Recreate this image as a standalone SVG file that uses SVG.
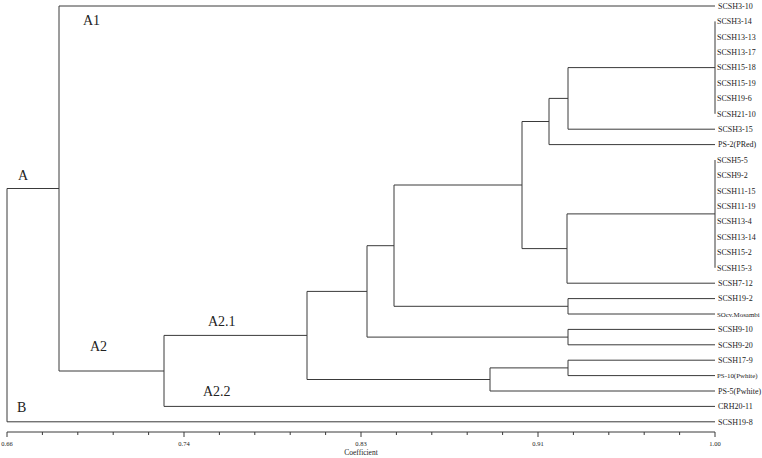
<svg xmlns="http://www.w3.org/2000/svg" width="762" height="458" viewBox="0 0 762 458">
<style>
.ln{fill:none;stroke:#3a3a3a;stroke-width:1}
.lf{font-family:"Liberation Serif","Times New Roman",serif;font-size:8px;fill:#222}
.sm{font-size:6.9px}
.cl{font-family:"Liberation Serif","Times New Roman",serif;font-size:14px;fill:#222}
.ax{font-family:"Liberation Serif","Times New Roman",serif;font-size:6.5px;fill:#222;text-anchor:middle}
</style>
<rect width="762" height="458" fill="#fff"/>
<g id="connectors" class="ln">
<path d="M59,6H715"/>
<path d="M715,21.4V113.8M568,67.6H715"/>
<path d="M568,129.2H715"/>
<path d="M568,67.6V129.2M549,98.4H568"/>
<path d="M549,144.6H715"/>
<path d="M549,98.4V144.6M522,121.5H549"/>
<path d="M715,160V267.8M567,213.9H715"/>
<path d="M567,283.2H715"/>
<path d="M567,213.9V283.2M522,248.6H567"/>
<path d="M522,121.5V248.6M394,185H522"/>
<path d="M568,298.6H715M568,314H715M568,298.6V314M394,306.3H568"/>
<path d="M394,185V306.3M367,245.7H394"/>
<path d="M568,329.4H715M568,344.8H715M568,329.4V344.8M367,337.1H568"/>
<path d="M367,245.7V337.1M307,291.4H367"/>
<path d="M568,360.2H715M568,375.6H715M568,360.2V375.6M490,367.9H568"/>
<path d="M490,391H715"/>
<path d="M490,367.9V391M307,379.5H490"/>
<path d="M307,291.4V379.5M164,335.4H307"/>
<path d="M164,406.4H715"/>
<path d="M164,335.4V406.4M59,371H164"/>
<path d="M59,6V371M7,188.5H59"/>
<path d="M7,421.8H715"/>
<path d="M7,188.5V421.8"/>
</g>
<g id="axis" class="ln">
<path d="M7,432H715"/>
<path d="M7,432v5M42.4,432v3M77.8,432v3M113.2,432v3M148.6,432v3M184,432v5M219.4,432v3M254.8,432v3M290.2,432v3M325.6,432v3M361,432v5M396.4,432v3M431.8,432v3M467.2,432v3M502.6,432v3M538,432v5M573.4,432v3M608.8,432v3M644.2,432v3M679.6,432v3M715,432v5"/>
</g>
<g id="axis-labels">
<text class="ax" x="7" y="446">0.66</text>
<text class="ax" x="184" y="446">0.74</text>
<text class="ax" x="361" y="446">0.83</text>
<text class="ax" x="538" y="446">0.91</text>
<text class="ax" x="715" y="446">1.00</text>
<text class="ax" x="361" y="455" style="font-size:7.5px">Coefficient</text>
</g>
<g id="cluster-labels">
<text id="lbl-A1" class="cl" x="83" y="25">A1</text>
<text id="lbl-A" class="cl" x="18" y="180">A</text>
<text id="lbl-A2" class="cl" x="90" y="351">A2</text>
<text id="lbl-A21" class="cl" x="208" y="326">A2.1</text>
<text id="lbl-A22" class="cl" x="203" y="396">A2.2</text>
<text id="lbl-B" class="cl" x="17" y="412">B</text>
</g>
<g id="leaves">
<g id="leaf-1"><text class="lf" x="718" y="8.7">SCSH3-10</text></g>
<g id="leaf-2"><text class="lf" x="717" y="24.1">SCSH3-14</text></g>
<g id="leaf-3"><text class="lf" x="717" y="39.5">SCSH13-13</text></g>
<g id="leaf-4"><text class="lf" x="717" y="54.9">SCSH13-17</text></g>
<g id="leaf-5"><text class="lf" x="717" y="70.3">SCSH15-18</text></g>
<g id="leaf-6"><text class="lf" x="717" y="85.7">SCSH15-19</text></g>
<g id="leaf-7"><text class="lf" x="717" y="101.1">SCSH19-6</text></g>
<g id="leaf-8"><text class="lf" x="717" y="116.5">SCSH21-10</text></g>
<g id="leaf-9"><text class="lf" x="718" y="131.9">SCSH3-15</text></g>
<g id="leaf-10"><text class="lf" x="718" y="147.3">PS-2(PRed)</text></g>
<g id="leaf-11"><text class="lf" x="717" y="162.7">SCSH5-5</text></g>
<g id="leaf-12"><text class="lf" x="717" y="178.1">SCSH9-2</text></g>
<g id="leaf-13"><text class="lf" x="717" y="193.5">SCSH11-15</text></g>
<g id="leaf-14"><text class="lf" x="717" y="208.9">SCSH11-19</text></g>
<g id="leaf-15"><text class="lf" x="717" y="224.3">SCSH13-4</text></g>
<g id="leaf-16"><text class="lf" x="717" y="239.7">SCSH13-14</text></g>
<g id="leaf-17"><text class="lf" x="717" y="255.1">SCSH15-2</text></g>
<g id="leaf-18"><text class="lf" x="717" y="270.5">SCSH15-3</text></g>
<g id="leaf-19"><text class="lf" x="718" y="285.9">SCSH7-12</text></g>
<g id="leaf-20"><text class="lf" x="718" y="301.3">SCSH19-2</text></g>
<g id="leaf-21"><text class="lf sm" x="717" y="316.5">SOcv.Mosambi</text></g>
<g id="leaf-22"><text class="lf" x="718" y="332.1">SCSH9-10</text></g>
<g id="leaf-23"><text class="lf" x="718" y="347.5">SCSH9-20</text></g>
<g id="leaf-24"><text class="lf" x="718" y="362.9">SCSH17-9</text></g>
<g id="leaf-25"><text class="lf sm" x="717" y="378">PS-10(Pwhite)</text></g>
<g id="leaf-26"><text class="lf" x="718" y="393.7">PS-5(Pwhite)</text></g>
<g id="leaf-27"><text class="lf" x="718" y="409.1">CRH20-11</text></g>
<g id="leaf-28"><text class="lf" x="718" y="424.5">SCSH19-8</text></g>
</g>
</svg>
